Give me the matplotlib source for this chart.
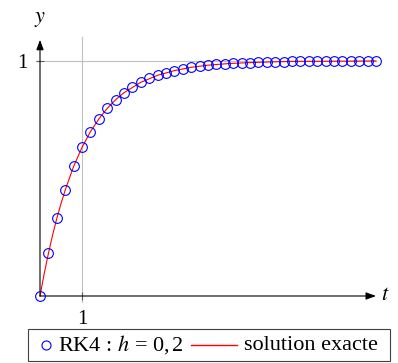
import matplotlib
matplotlib.use('Agg')
import matplotlib.pyplot as plt
from matplotlib.offsetbox import DrawingArea, TextArea, HPacker, AnchoredOffsetbox
from matplotlib.lines import Line2D

plt.rcParams['font.family'] = 'serif'
plt.rcParams['font.serif'] = ['Liberation Serif', 'DejaVu Serif']
plt.rcParams['mathtext.fontset'] = 'stix'

# RK4 points (h = 0,2)
t_rk4 = [0.0, 0.2, 0.4, 0.6, 0.8, 1.0, 1.2, 1.4, 1.6, 1.8,
         2.0, 2.2, 2.4, 2.6, 2.8, 3.0, 3.2, 3.4, 3.6, 3.8,
         4.0, 4.2, 4.4, 4.6, 4.8, 5.0, 5.2, 5.4, 5.6, 5.8,
         6.0, 6.2, 6.4, 6.6, 6.8, 7.0, 7.2, 7.4, 7.6, 7.8, 8.0]
y_rk4 = [0.0, 0.181, 0.330, 0.451, 0.551, 0.632, 0.699, 0.753, 0.798, 0.835,
         0.865, 0.889, 0.909, 0.926, 0.939, 0.950, 0.959, 0.967, 0.973, 0.978,
         0.982, 0.985, 0.988, 0.990, 0.992, 0.993, 0.994, 0.995, 0.996, 0.997,
         0.998, 0.998, 0.998, 0.999, 0.999, 0.999, 0.999, 0.999, 1.0, 1.0, 1.0]

# exact solution
t_exact = [0.0, 0.1, 0.2, 0.3, 0.4, 0.5, 0.6, 0.8, 1.0, 1.2, 1.4, 1.6, 1.8,
           2.0, 2.4, 2.8, 3.2, 3.6, 4.0, 4.5, 5.0, 5.5, 6.0, 7.0, 8.0]
y_exact = [0.0, 0.095, 0.181, 0.259, 0.330, 0.393, 0.451, 0.551, 0.632, 0.699,
           0.753, 0.798, 0.835, 0.865, 0.909, 0.939, 0.959, 0.973, 0.982, 0.989,
           0.993, 0.996, 0.998, 0.999, 1.0]

x_ticks = [1]
y_ticks = [1]

fs = 15
leg_fs = 16
xmin, xmax = -0.2, 8.2
ymin, ymax = -0.05, 1.12

fig = plt.figure(figsize=(3.98, 3.63), dpi=100)
ax = fig.add_axes([0.0794, 0.1522, 0.8864, 0.7576])
ax.set_xlim(xmin, xmax)
ax.set_ylim(ymin, ymax)

for s in ax.spines.values():
    s.set_visible(False)
ax.spines['bottom'].set_position(('data', 0))
ax.spines['left'].set_position(('data', 0))

# grid lines at the ticks
ax.axvline(1, ymin=(-0.025 - ymin) / (ymax - ymin), ymax=(1.1 - ymin) / (ymax - ymin),
           color='#c0c0c0', lw=0.8, zorder=0)
ax.axhline(1, xmin=(-0.1 - xmin) / (xmax - xmin), xmax=(8.0 - xmin) / (xmax - xmin),
           color='#c0c0c0', lw=0.8, zorder=0)

ax.set_xticks(x_ticks)
ax.set_yticks(y_ticks)
ax.set_xticklabels([str(v) for v in x_ticks])
ax.set_yticklabels([str(v) for v in y_ticks])
ax.tick_params(axis='both', direction='inout', length=6, width=0.8, color='#606060',
               labelsize=fs)
ax.tick_params(axis='x', pad=7)
ax.tick_params(axis='y', pad=6)

# axes with arrows
arrow = dict(arrowstyle='-|>,head_length=0.6,head_width=0.22', color='black', lw=0.8,
             shrinkA=0, shrinkB=0, mutation_scale=10)
ax.annotate('', xy=(8.0, 0), xytext=(0, 0), arrowprops=arrow)
ax.annotate('', xy=(0, 1.09), xytext=(0, 0), arrowprops=arrow)
ax.text(8.21, 0, '$t$', ha='center', va='center', fontsize=fs + 1)
ax.text(0, 1.175, '$y$', ha='center', va='center', fontsize=fs + 1)

ax.plot(t_exact, y_exact, color='red', lw=0.8, zorder=2, clip_on=False)
ax.plot(t_rk4, y_rk4, ls='none', marker='o', ms=7, mfc='none', mec='blue', mew=0.8,
        zorder=3, clip_on=False)

# legend (spacers at both ends widen the box without making it taller)
da1 = DrawingArea(8, 10, 0, 0)
da1.add_artist(Line2D([4], [5], marker='o', ms=6.5, mfc='none', mec='blue', mew=0.8, ls='none'))
ta1 = TextArea('RK4 : $h$ = 0,$\\,$2', textprops=dict(fontsize=leg_fs))
da2 = DrawingArea(33, 10, 0, 0)
da2.add_artist(Line2D([0, 33], [5, 5], color='red', lw=1.0))
ta2 = TextArea('solution exacte', textprops=dict(fontsize=leg_fs))
box = HPacker(children=[DrawingArea(0, 1), da1, ta1, da2, ta2, DrawingArea(0, 1)],
              align='center', pad=0, sep=5.2)
leg = AnchoredOffsetbox(loc='center', child=box, pad=0.2, borderpad=0, frameon=True,
                        prop=dict(size=leg_fs),
                        bbox_to_anchor=(209 / 398, (363 - 345) / 363),
                        bbox_transform=fig.transFigure)
leg.patch.set_boxstyle('square', pad=0)
leg.patch.set_edgecolor('#404040')
leg.patch.set_linewidth(0.8)
fig.add_artist(leg)

fig.savefig('out.png', dpi=100)
